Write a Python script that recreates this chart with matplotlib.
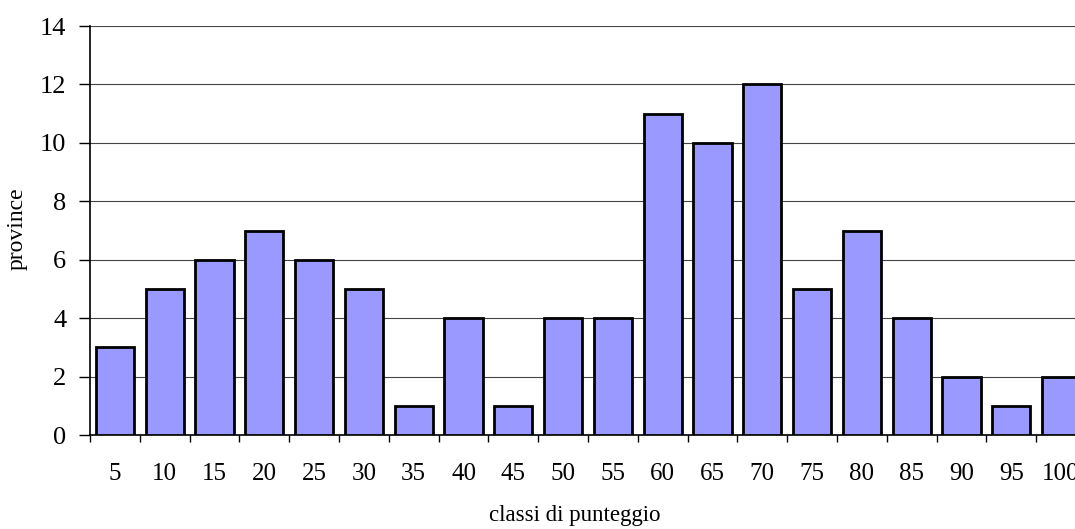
import matplotlib
matplotlib.use("Agg")
import matplotlib.pyplot as plt
import numpy as np

categories = ["5", "10", "15", "20", "25", "30", "35", "40", "45", "50",
              "55", "60", "65", "70", "75", "80", "85", "90", "95", "100"]
values = [3, 5, 6, 7, 6, 5, 1, 4, 1, 4, 4, 11, 10, 12, 5, 7, 4, 2, 1, 2]
yticks = [0, 2, 4, 6, 8, 10, 12, 14]

plt.rcParams['font.family'] = ['Liberation Serif', 'DejaVu Serif']

W, H = 1075, 529
fig = plt.figure(figsize=(W / 100, H / 100), dpi=100)
left, right, bottom, top = 90 / W, 1086 / W, (H - 435) / H, (H - 26) / H
ax = fig.add_axes([left, bottom, right - left, top - bottom])

x = np.arange(len(categories))
ax.bar(x, values, width=0.77, color="#9999FF", edgecolor="black",
       linewidth=2.0, zorder=3)

ax.set_xlim(-0.5, len(categories) - 0.5)
ax.set_ylim(0, 14)
ax.set_yticks(yticks)
ax.set_yticklabels([str(v) for v in yticks], fontsize=19)
ax.set_xticks(x)
ax.set_xticklabels(categories, fontsize=18)
ax.set_xticks(np.arange(len(categories) + 1) - 0.5, minor=True)
ax.tick_params(axis='x', which='major', length=0, pad=20)
ax.tick_params(axis='x', which='minor', length=5, width=1, color='black', direction='out')
ax.tick_params(axis='y', length=8, width=1, direction='out', pad=9)

ax.yaxis.grid(True, color="#444444", linewidth=0.8, zorder=0)
ax.set_axisbelow(True)
for s in ['top', 'right']:
    ax.spines[s].set_visible(False)
ax.spines['left'].set_linewidth(1.2)
ax.spines['bottom'].set_linewidth(1.2)

fig.text(17 / W, (H - 229) / H, "province", rotation=90, fontsize=17,
         ha='center', va='center')
fig.text(575 / W, (H - 516) / H, "classi di punteggio", fontsize=16.5,
         ha='center', va='center')

fig.savefig("out.png", dpi=100)
